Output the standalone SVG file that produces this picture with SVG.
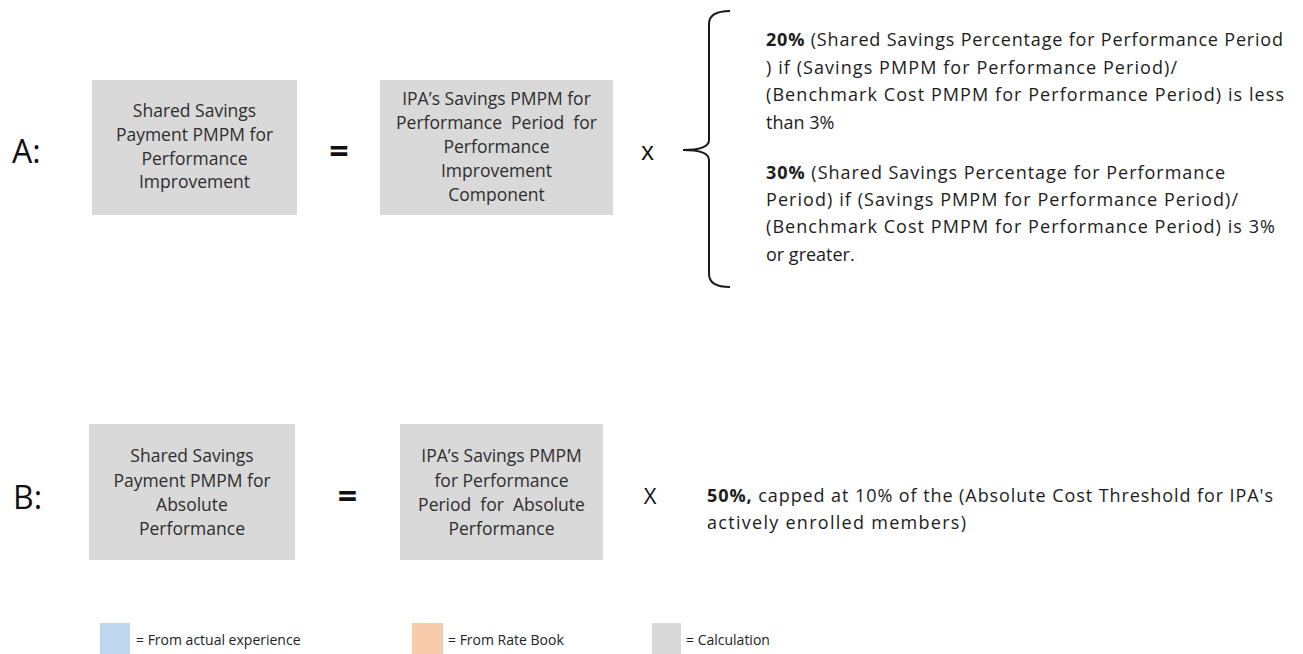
<svg xmlns="http://www.w3.org/2000/svg" width="1303" height="654" viewBox="0 0 1303 654">
<style>
  .bg { fill: #ffffff; }
  .box { fill: #d9d9d9; }
  .bt { font-family: "Open Sans", "Liberation Sans", sans-serif; font-size: 17.5px; fill: #2e2e2e; text-anchor: middle; }
  .big { font-family: "Open Sans", "Liberation Sans", sans-serif; font-size: 32px; fill: #111111; }
  .op { font-family: "Open Sans", "Liberation Sans", sans-serif; font-size: 34px; font-weight: bold; fill: #111111; text-anchor: middle; }
  .mul { font-family: "Open Sans", "Liberation Sans", sans-serif; fill: #111111; text-anchor: middle; }
  .rt { font-family: "Open Sans", "Liberation Sans", sans-serif; font-size: 18px; fill: #1c1c1c; }
  .rt tspan.b { font-weight: bold; }
  .lg { font-family: "Open Sans", "Liberation Sans", sans-serif; font-size: 14px; fill: #222222; }
  .brace { fill: none; stroke: #1a1a1a; stroke-width: 2; }
</style>
<rect class="bg" x="0" y="0" width="1303" height="654"/>

<!-- Row A -->
<g id="label-a"><text class="big" x="12" y="163">A:</text></g>

<g id="node-a1">
  <rect class="box" x="92" y="80" width="205" height="135"/>
  <text class="bt" x="194.5" y="117">Shared Savings</text>
  <text class="bt" x="194.5" y="141">Payment PMPM for</text>
  <text class="bt" x="194.5" y="164.5">Performance</text>
  <text class="bt" x="194.5" y="188">Improvement</text>
</g>

<g id="op-a-eq"><text class="op" x="339" y="163">=</text></g>

<g id="node-a2">
  <rect class="box" x="380" y="80" width="233" height="135"/>
  <text class="bt" x="496.5" y="105">IPA’s Savings PMPM for</text>
  <text class="bt" x="496.5" y="129" xml:space="preserve">Performance  Period  for</text>
  <text class="bt" x="496.5" y="153">Performance</text>
  <text class="bt" x="496.5" y="177">Improvement</text>
  <text class="bt" x="496.5" y="201">Component</text>
</g>

<g id="op-a-mul"><text class="mul" x="647.5" y="160" font-size="25">x</text></g>

<g id="connectors">
  <path id="brace-a" class="brace" d="M730,11 Q709,11 709,24 L709,140 Q709,150 683,150 Q709,150 709,160 L709,274 Q709,287 730,287"/>
</g>

<g id="node-a-conditions">
  <text class="rt" x="766" y="46" textLength="517" lengthAdjust="spacing"><tspan class="b">20%</tspan> (Shared Savings Percentage for Performance Period</text>
  <text class="rt" x="766" y="74" textLength="411" lengthAdjust="spacing">) if (Savings PMPM for Performance Period)/</text>
  <text class="rt" x="766" y="101" textLength="518" lengthAdjust="spacing">(Benchmark Cost PMPM for Performance Period) is less</text>
  <text class="rt" x="766" y="129">than 3%</text>
  <text class="rt" x="766" y="179" textLength="459" lengthAdjust="spacing"><tspan class="b">30%</tspan> (Shared Savings Percentage for Performance</text>
  <text class="rt" x="766" y="206" textLength="472" lengthAdjust="spacing">Period) if (Savings PMPM for Performance Period)/</text>
  <text class="rt" x="766" y="233" textLength="509" lengthAdjust="spacing">(Benchmark Cost PMPM for Performance Period) is 3%</text>
  <text class="rt" x="766" y="261">or greater.</text>
</g>

<!-- Row B -->
<g id="label-b"><text class="big" x="13" y="509">B:</text></g>

<g id="node-b1">
  <rect class="box" x="89" y="424" width="206" height="136"/>
  <text class="bt" x="192" y="462">Shared Savings</text>
  <text class="bt" x="192" y="487">Payment PMPM for</text>
  <text class="bt" x="192" y="511">Absolute</text>
  <text class="bt" x="192" y="535">Performance</text>
</g>

<g id="op-b-eq"><text class="op" x="347.5" y="508">=</text></g>

<g id="node-b2">
  <rect class="box" x="400" y="424" width="203" height="136"/>
  <text class="bt" x="501.5" y="462">IPA’s Savings PMPM</text>
  <text class="bt" x="501.5" y="487">for Performance</text>
  <text class="bt" x="501.5" y="511" xml:space="preserve">Period  for  Absolute</text>
  <text class="bt" x="501.5" y="535">Performance</text>
</g>

<g id="op-b-mul"><text class="mul" x="650" y="504" font-size="22">X</text></g>

<g id="node-b-rate">
  <text class="rt" x="707" y="502" textLength="566" lengthAdjust="spacing"><tspan class="b">50%,</tspan> capped at 10% of the (Absolute Cost Threshold for IPA's</text>
  <text class="rt" x="707" y="529" textLength="259" lengthAdjust="spacing">actively enrolled members)</text>
</g>

<!-- Legend -->
<g id="legend-actual">
  <rect x="100" y="623" width="30" height="31" fill="#bdd7ee"/>
  <text class="lg" x="136" y="645">= From actual experience</text>
</g>
<g id="legend-ratebook">
  <rect x="412" y="623" width="31" height="31" fill="#f8cbad"/>
  <text class="lg" x="448" y="645">= From Rate Book</text>
</g>
<g id="legend-calc">
  <rect x="652" y="623" width="29" height="31" fill="#d9d9d9"/>
  <text class="lg" x="686" y="645">= Calculation</text>
</g>
</svg>
